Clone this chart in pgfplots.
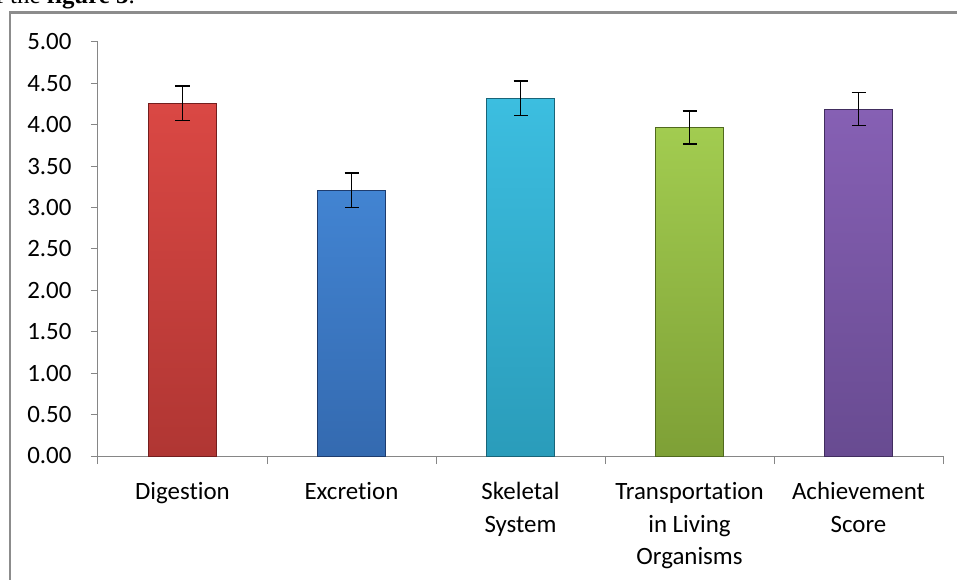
\documentclass[border=0pt]{standalone}
\usepackage{pgfplots}
\pgfplotsset{compat=1.18}
\usepackage{fontspec}
\setmainfont{Carlito}[Ligatures=NoCommon]
\newfontfamily\serif{Liberation Serif}

\definecolor{axisgray}{RGB}{134,134,134}
\definecolor{framegray}{RGB}{140,140,140}

\begin{document}
\begin{tikzpicture}
\clip (-98bp,-124bp) rectangle (859bp,456bp);
\begin{axis}[
    at={(0,0)}, anchor=south west,
    scale only axis, width=845bp, height=414bp,
    xmin=-0.5, xmax=4.5, ymin=0, ymax=5,
    axis lines=left, axis line style={-, draw=axisgray, line width=1bp},
    ytick={0,0.5,...,5},
    yticklabel style={xshift=-16bp, /pgf/number format/.cd, fixed, fixed zerofill, precision=2, assume math mode=true},
    xtick={0,1,2,3,4},
    xticklabels={Digestion, Excretion, {Skeletal\\System}, {Transportation\\in Living\\Organisms}, {Achievement\\Score}},
    xticklabel style={align=center, yshift=-16bp},
    minor xtick={-0.5,0.5,...,4.5},
    tick align=outside,
    major tick length=7bp, minor tick length=8bp,
    major x tick style={draw=none},
    every tick/.style={draw=axisgray, line width=1bp},
    tick label style={font=\fontsize{25}{32.5}\selectfont, text=black},
    error bars/error bar style={black, line width=1.6bp},
    error bars/error mark options={black, rotate=90, mark size=7bp, line width=1.6bp},
]
\addplot[ybar, bar width=68bp, bar shift=0pt, top color={rgb,255:red,218;green,72;blue,68}, bottom color={rgb,255:red,176;green,54;blue,51}, draw={rgb,255:red,115;green,30;blue,30},
    error bars/.cd, y dir=both, y explicit]
    coordinates {(0,4.26) +- (0,0.21)};
\addplot[ybar, bar width=68bp, bar shift=0pt, top color={rgb,255:red,66;green,132;blue,210}, bottom color={rgb,255:red,52;green,106;blue,176}, draw={rgb,255:red,30;green,60;blue,110},
    error bars/.cd, y dir=both, y explicit]
    coordinates {(1,3.21) +- (0,0.21)};
\addplot[ybar, bar width=68bp, bar shift=0pt, top color={rgb,255:red,60;green,190;blue,224}, bottom color={rgb,255:red,42;green,156;blue,186}, draw={rgb,255:red,25;green,100;blue,120},
    error bars/.cd, y dir=both, y explicit]
    coordinates {(2,4.32) +- (0,0.21)};
\addplot[ybar, bar width=68bp, bar shift=0pt, top color={rgb,255:red,162;green,204;blue,80}, bottom color={rgb,255:red,126;green,160;blue,54}, draw={rgb,255:red,80;green,105;blue,30},
    error bars/.cd, y dir=both, y explicit]
    coordinates {(3,3.97) +- (0,0.20)};
\addplot[ybar, bar width=68bp, bar shift=0pt, top color={rgb,255:red,134;green,96;blue,180}, bottom color={rgb,255:red,104;green,75;blue,145}, draw={rgb,255:red,65;green,45;blue,95},
    error bars/.cd, y dir=both, y explicit]
    coordinates {(4,4.19) +- (0,0.20)};
\end{axis}
\draw[framegray, line width=2.3bp] (-88bp,-140bp) -- (-88bp,443.5bp) -- (880bp,443.5bp);
\node[anchor=base west, inner sep=0pt, font=\serif\fontsize{25}{30}\selectfont] at (-115bp,452bp) {of the \textbf{figure 3}.};
\end{tikzpicture}
\end{document}
